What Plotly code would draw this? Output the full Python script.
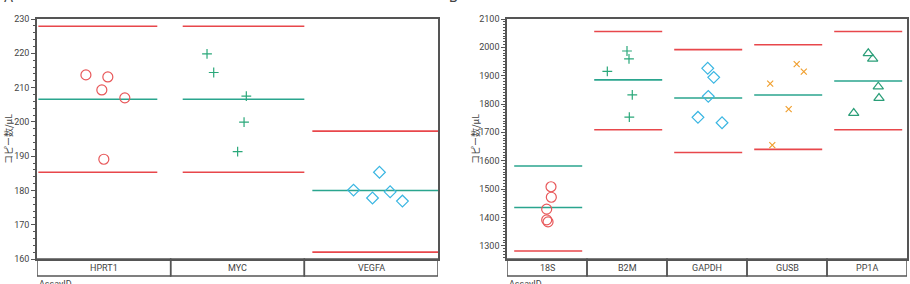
import plotly.graph_objects as go

# ---------------- data ----------------
cats_a = ["HPRT1", "MYC", "VEGFA"]
vals_a = [
    [213.7, 209.3, 213.1, 207.0, 189.1],
    [219.8, 214.4, 207.5, 199.9, 191.3],
    [185.3, 180.1, 179.6, 177.8, 176.9],
]
jit_a = [
    [-0.134, -0.015, 0.03, 0.157, 0.0],
    [-0.228, -0.178, 0.066, 0.049, 0.001],
    [0.062, -0.132, 0.142, 0.01, 0.234],
]
mean_a = [206.6, 206.6, 180.0]
upper_a = [227.9, 227.9, 197.3]
lower_a = [185.3, 185.3, 162.0]

cats_b = ["18S", "B2M", "GAPDH", "GUSB", "PP1A"]
vals_b = [
    [1508, 1471, 1429, 1391, 1384],
    [1987, 1959, 1915, 1832, 1754],
    [1926, 1894, 1827, 1753, 1734],
    [1941, 1914, 1872, 1782, 1655],
    [1979, 1959, 1861, 1821, 1768],
]
jit_b = [
    [0.05, 0.054, -0.004, -0.004, 0.013],
    [0.0, 0.025, -0.246, 0.066, 0.029],
    [0.009, 0.084, 0.016, -0.113, 0.188],
    [0.121, 0.21, -0.21, 0.021, -0.184],
    [0.016, 0.071, 0.141, 0.15, -0.166],
]
mean_b = [1435, 1885, 1821, 1832, 1881]
upper_b = [1581, 2056, 1992, 2009, 2056]
lower_b = [1281, 1709, 1629, 1640, 1709]

# ---------------- style ----------------
RED = "#e8474b"
TEAL = "#2aa58e"
AX = "#555555"
FONT = "Roboto"
span_a = [(-0.49, 0.40), (-0.41, 0.5), (-0.44, 0.5)]
span_b = [(-0.41, 0.44)] * 5
upper_col_b = [TEAL, RED, RED, RED, RED]
marks_a = [("circle-open", "#e8585a", 10), ("cross-thin-open", "#2aa87a", 7), ("diamond-open", "#3ab6e2", 9)]
marks_b = [("circle-open", "#e8585a", 10), ("cross-thin-open", "#2aa87a", 7), ("diamond-open", "#3ab6e2", 9),
           ("x-thin-open", "#f0a030", 6), ("triangle-up-open", "#2a9e78", 9)]

fig = go.Figure()


def add_panel(cats, vals, jit, mean, upper, lower, spans, marks, upcols, xa, ya):
    for i, c in enumerate(cats):
        s0, s1 = spans[i]
        for v, col in ((upper[i], upcols[i]), (mean[i], TEAL), (lower[i], RED)):
            fig.add_trace(go.Scatter(x=[i + s0, i + s1], y=[v, v], mode="lines",
                                     line=dict(color=col, width=1.6), xaxis=xa, yaxis=ya,
                                     showlegend=False, hoverinfo="skip"))
        sym, col, sz = marks[i]
        fig.add_trace(go.Scatter(x=[i + j for j in jit[i]], y=vals[i], mode="markers",
                                 marker=dict(symbol=sym, color=col, size=sz,
                                             line=dict(color=col, width=1.2)),
                                 xaxis=xa, yaxis=ya, showlegend=False, name=c))


add_panel(cats_a, vals_a, jit_a, mean_a, upper_a, lower_a, span_a, marks_a, [RED] * 3, "x", "y")
add_panel(cats_b, vals_b, jit_b, mean_b, upper_b, lower_b, span_b, marks_b, upper_col_b, "x2", "y2")

W, H = 910, 284
ydom = [(284 - 259) / H, (284 - 19) / H]
strip = -17 / 240

shapes = []
annotations = []
for cats, xr, yr in ((cats_a, "x", "y domain"), (cats_b, "x2", "y2 domain")):
    for i, c in enumerate(cats):
        shapes.append(dict(type="rect", xref=xr, yref=yr, x0=i - 0.5, x1=i + 0.5, y0=strip, y1=0,
                           line=dict(color=AX, width=1.5), fillcolor="rgba(0,0,0,0)"))
        annotations.append(dict(xref=xr, yref=yr, x=i, y=strip / 2, text=c, showarrow=False,
                                xanchor="center", yanchor="middle",
                                font=dict(family=FONT, size=9, color="#444")))

for xpx, label in ((37, "AssayID"), (507, "AssayID")):
    annotations.append(dict(xref="paper", yref="paper", x=xpx / W, y=(284 - 277) / H, xanchor="left",
                            yanchor="top", text=label, showarrow=False,
                            font=dict(family=FONT, size=9, color="#444")))
for xpx, label in ((8, "コピー数/μL"), (475, "コピー数/μL")):
    annotations.append(dict(xref="paper", yref="paper", x=xpx / W, y=(284 - 139) / H, xanchor="center",
                            yanchor="middle", text=label, textangle=-90, showarrow=False,
                            font=dict(family="Noto Sans CJK JP", size=9, color="#444")))
for xpx, label in ((2, "A"), (447, "B")):
    annotations.append(dict(xref="paper", yref="paper", x=xpx / W, y=(284 - 7) / H, xanchor="left",
                            yanchor="bottom", text=label, showarrow=False,
                            font=dict(family=FONT, size=14, color="#444")))

common_x = dict(showticklabels=False, ticks="", showgrid=False, zeroline=False, automargin=False,
                showline=True, mirror=True, linecolor=AX, linewidth=1.5)
common_y = dict(showgrid=False, zeroline=False, showline=True, mirror=True, linecolor=AX, linewidth=1.5,
                automargin=False,
                ticks="outside", ticklen=4, tickcolor=AX, tickfont=dict(family=FONT, size=9, color="#444"))

fig.update_layout(
    template="none",
    width=W, height=H, margin=dict(l=0, r=0, t=0, b=0, pad=0), autosize=False,
    paper_bgcolor="white", plot_bgcolor="white", showlegend=False,
    xaxis=dict(domain=[37 / W, 438 / W], range=[-0.5, 2.5], anchor="y", **common_x),
    yaxis=dict(domain=ydom, range=[160, 230], dtick=10, anchor="x",
               minor=dict(dtick=2, ticks="outside", ticklen=2, tickcolor=AX), **common_y),
    xaxis2=dict(domain=[507 / W, 907 / W], range=[-0.5, 4.5], anchor="y2", **common_x),
    yaxis2=dict(domain=ydom, range=[1253, 2100], tick0=1300, dtick=100, anchor="x2",
                minor=dict(dtick=10, ticks="outside", ticklen=2, tickcolor=AX), **common_y),
    shapes=shapes, annotations=annotations,
)

fig.write_html("out.html")
